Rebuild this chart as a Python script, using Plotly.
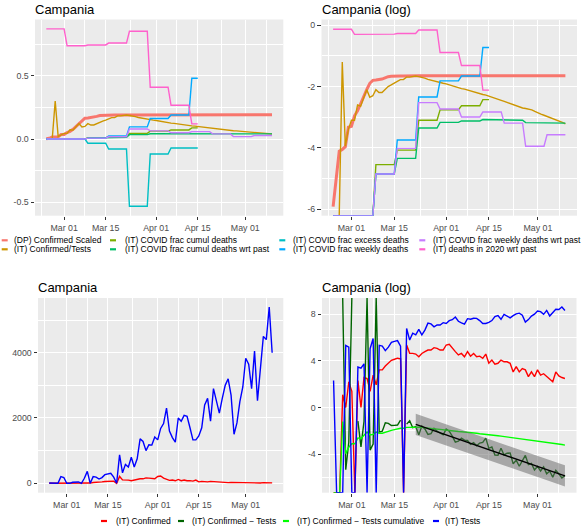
import numpy as np
import pandas as pd
import plotly.graph_objects as go

FONT = "Liberation Sans, Arial, sans-serif"
W, H = 582, 527

# ---------------- data ----------------
dates = pd.date_range("2020-02-24", "2020-05-10", freq="D")

dp_confirmed_scaled = [
    0.0027, 0.0063, 0.0164, 0.0174, 0.0190, 0.0358, 0.0369, 0.052, 0.061, 0.077,
    0.100, 0.122, 0.150, 0.165, 0.167, 0.169, 0.172, 0.179, 0.186, 0.188,
    0.190, 0.190, 0.190, 0.190, 0.191, 0.191, 0.191, 0.191, 0.191, 0.191,
    0.191, 0.191, 0.191, 0.191, 0.191, 0.191, 0.191, 0.191, 0.191, 0.191,
    0.191, 0.191, 0.191, 0.191, 0.191, 0.191, 0.191, 0.191, 0.191, 0.191,
    0.192, 0.192, 0.192, 0.192, 0.192, 0.192, 0.192, 0.192, 0.192, 0.192,
    0.192, 0.192, 0.192, 0.192, 0.192, 0.192, 0.192, 0.192, 0.192, 0.192,
    0.192, 0.192, 0.192, 0.192, 0.192, 0.192, 0.192]

it_confirmed_over_tests = [
    0, 0, 0, 0.30, 0.0193, 0.0334, 0.045, 0.045, 0.074, 0.071,
    0.095, 0.122, 0.095, 0.100, 0.122, 0.111, 0.111, 0.122, 0.135, 0.142,
    0.150, 0.160, 0.169, 0.169, 0.183, 0.183, 0.188, 0.190, 0.186, 0.183,
    0.177, 0.170, 0.165, 0.160, 0.156, 0.153, 0.150, 0.147, 0.142, 0.138,
    0.133, 0.129, 0.126, 0.124, 0.120, 0.116, 0.113, 0.110, 0.106, 0.104,
    0.102, 0.099, 0.096, 0.093, 0.089, 0.086, 0.083, 0.080, 0.078, 0.076,
    0.073, 0.070, 0.067, 0.066, 0.065, 0.063, 0.060, 0.057, 0.055, 0.053,
    0.051, 0.050, 0.048, 0.046, 0.044, 0.042, 0.040]

# weekly (Monday-start) values
frac_cumul_deaths_w = [0, 0, 0.0106, 0.017, 0.045, 0.063, 0.072, 0.088]
frac_cumul_deaths_wrt_past_w = [0, 0, 0.0078, 0.013, 0.035, 0.042, 0.044, 0.046, 0.045, 0.0416, 0.041]
frac_excess_deaths_w = [0, 0, -0.033, -0.078, -0.53, -0.118, -0.07, -0.07]
frac_weekly_deaths_w = [0, 0, 0.0078, 0.0237, 0.096, 0.162, 0.19, 0.48]
frac_weekly_deaths_wrt_past_w = [0, 0, 0.0078, 0.018, 0.08, 0.065, 0.05, 0.059, 0.041, 0.0193, 0.028]
deaths_2020_wrt_past_w = [0.87, 0.737, 0.743, 0.758, 0.851, 0.409, 0.267, 0.12]
short_end = "2020-04-15"
long_end = "2020-05-10"

it_confirmed = [
    0, 0, 0, 3, 1, 9, 4, 0, 10, 1,
    13, 12, 4, 16, 7, 25, 25, 35, 45, 57,
    62, 68, 65, 0, 210, 103, 103, 97, 77, 102,
    119, 137, 137, 167, 157, 137, 137, 210, 222, 158,
    119, 90, 102, 77, 119, 81, 102, 77, 81, 67,
    97, 44, 58, 41, 44, 58, 50, 50, 44, 21,
    33, 21, 28, 25, 14, 21, 14, 25, 16, 18,
    14, 11, 9, 21, 15, 13, 12]

it_tests = [
    10, 0, 0, 0, 204, 176, 0, 0, 32, 29,
    42, 0, 153, 365, 0, 204, 190, 130, 175, 265,
    285, 305, 190, 0, 870, 320, 580, 500, 800, 500,
    750, 1360, 1280, 1000, 1180, 1170, 1420, 1330, 1680, 1830,
    2300, 1600, 1400, 1260, 2000, 1900, 2080, 2050, 1700, 1330,
    1330, 1450, 1700, 2400, 2600, 1900, 2900, 2500, 2150, 2600,
    3000, 3200, 2700, 1500, 1850, 2500, 2950, 3830, 3650, 2900,
    4050, 2530, 3500, 4500, 4400, 5400, 4000]

fit_start = "2020-03-22"
band_t = 2.68  # t quantile for a 99% prediction band

top_labels = ["(DP) Confirmed Scaled", "(IT) Confirmed/Tests", "(IT) COVID frac cumul deaths",
              "(IT) COVID frac cumul deaths wrt past", "(IT) COVID frac excess deaths",
              "(IT) COVID frac weekly deaths", "(IT) COVID frac weekly deaths wrt past",
              "(IT) deaths in 2020 wrt past"]
top_colors = ["#F8766D", "#CD9600", "#7CAE00", "#00BE67", "#00BFC4", "#00A9FF", "#C77CFF", "#FF61CC"]
bottom_labels = ["(IT) Confirmed", "(IT) Confirmed \u2212 Tests", "(IT) Confirmed \u2212 Tests cumulative", "(IT) Tests"]
bottom_colors = ["#FF0000", "#006400", "#00FF00", "#0000FF"]

x_tick_vals = ["2020-03-01", "2020-03-15", "2020-04-01", "2020-04-15", "2020-05-01"]
x_tick_text = ["Mar 01", "Mar 15", "Apr 01", "Apr 15", "May 01"]
x_minor_vals = ["2020-02-22 12:00", "2020-03-08", "2020-03-23 12:00", "2020-04-08", "2020-04-23", "2020-05-08"]
X_RANGE = ["2020-02-20 04:48", "2020-05-13 19:12"]

Y_TL = [-0.605, 0.944]
Y_TR = [-6.21, 0.18]
Y_BL = [-288, 5675]
Y_BR = [-7.29, 9.37]


# ---------------- helpers ----------------
def daily_from_weekly(wvals, end):
    out = np.full(len(dates), np.nan)
    widx = (dates - dates[0]).days // 7
    for i, d in enumerate(dates):
        if d <= pd.Timestamp(end) and widx[i] < len(wvals):
            out[i] = wvals[widx[i]]
    return out


def to_log(vals, lo, hi):
    a = np.array(vals, dtype=float)
    with np.errstate(divide="ignore", invalid="ignore"):
        out = np.log(a)
    out[np.isneginf(out)] = lo
    out[np.isposinf(out)] = hi
    return out


top_values = [
    np.array(dp_confirmed_scaled, float),
    np.array(it_confirmed_over_tests, float),
    daily_from_weekly(frac_cumul_deaths_w, short_end),
    daily_from_weekly(frac_cumul_deaths_wrt_past_w, long_end),
    daily_from_weekly(frac_excess_deaths_w, short_end),
    daily_from_weekly(frac_weekly_deaths_w, short_end),
    daily_from_weekly(frac_weekly_deaths_wrt_past_w, long_end),
    daily_from_weekly(deaths_2020_wrt_past_w, short_end),
]
top_widths = [3.0] + [1.4] * 7

C = np.array(it_confirmed, float)
T = np.array(it_tests, float)
with np.errstate(divide="ignore", invalid="ignore"):
    ratio_log = np.log(C) - np.log(T)
ratio_log[np.isposinf(ratio_log)] = Y_BR[1]
ratio_log[np.isneginf(ratio_log)] = Y_BR[0]

# linear fit on log daily ratio (from fit_start) with prediction band
mask = dates >= pd.Timestamp(fit_start)
xd = (dates[mask] - dates[0]).days.values.astype(float)
yd = ratio_log[mask]
b1, b0 = np.polyfit(xd, yd, 1)
yhat = b0 + b1 * xd
n = len(xd)
s = np.sqrt(np.sum((yd - yhat) ** 2) / (n - 2))
half = band_t * s * np.sqrt(1 + 1 / n + (xd - xd.mean()) ** 2 / np.sum((xd - xd.mean()) ** 2))

# ---------------- figure ----------------
fig = go.Figure()

for lab, vals, col, lw in zip(top_labels, top_values, top_colors, top_widths):
    fig.add_trace(go.Scatter(x=dates, y=vals, mode="lines", line=dict(color=col, width=lw),
                             name=lab, showlegend=False, xaxis="x", yaxis="y"))
for lab, vals, col, lw in zip(top_labels, top_values, top_colors, top_widths):
    fig.add_trace(go.Scatter(x=dates, y=to_log(vals, Y_TR[0], Y_TR[1]), mode="lines",
                             line=dict(color=col, width=lw), name=lab, showlegend=False,
                             xaxis="x2", yaxis="y2"))

# bottom-left (linear)
fig.add_trace(go.Scatter(x=dates, y=C, mode="lines", line=dict(color=bottom_colors[0], width=1.4),
                         name=bottom_labels[0], showlegend=False, xaxis="x3", yaxis="y3"))
fig.add_trace(go.Scatter(x=dates, y=T, mode="lines", line=dict(color=bottom_colors[3], width=1.4),
                         name=bottom_labels[3], showlegend=False, xaxis="x3", yaxis="y3"))

# bottom-right (log)
fig.add_trace(go.Scatter(x=dates, y=to_log(C, Y_BR[0], Y_BR[1]), mode="lines", name=bottom_labels[0],
                         line=dict(color=bottom_colors[0], width=1.4), showlegend=False, xaxis="x4", yaxis="y4"))
fig.add_trace(go.Scatter(x=dates, y=ratio_log, mode="lines", name=bottom_labels[1],
                         line=dict(color=bottom_colors[1], width=1.4), showlegend=False, xaxis="x4", yaxis="y4"))
fig.add_trace(go.Scatter(x=dates, y=to_log(it_confirmed_over_tests, Y_BR[0], Y_BR[1]), mode="lines",
                         name=bottom_labels[2],
                         line=dict(color=bottom_colors[2], width=1.4), showlegend=False, xaxis="x4", yaxis="y4"))
fig.add_trace(go.Scatter(x=dates, y=to_log(T, Y_BR[0], Y_BR[1]), mode="lines", name=bottom_labels[3],
                         line=dict(color=bottom_colors[3], width=1.4), showlegend=False, xaxis="x4", yaxis="y4"))
fit_dates = dates[mask]
fig.add_trace(go.Scatter(x=fit_dates, y=yhat - half, mode="lines", line=dict(width=0, color="rgba(0,0,0,0)"),
                         showlegend=False, hoverinfo="skip", xaxis="x4", yaxis="y4"))
fig.add_trace(go.Scatter(x=fit_dates, y=yhat + half, mode="lines", line=dict(width=0, color="rgba(0,0,0,0)"),
                         fill="tonexty", fillcolor="rgba(100,100,100,0.5)",
                         showlegend=False, hoverinfo="skip", xaxis="x4", yaxis="y4"))
fig.add_trace(go.Scatter(x=fit_dates, y=yhat, mode="lines", line=dict(color="black", width=1.4),
                         showlegend=False, xaxis="x4", yaxis="y4"))


def px_x(px):
    return px / W


def px_y(py):
    return 1 - py / H


common = dict(showgrid=True, gridcolor="white", gridwidth=1.07, zeroline=False, showline=False,
              ticks="outside", ticklen=3.5, tickwidth=1.07, tickcolor="#333333",
              tickfont=dict(family=FONT, size=8.8, color="#4D4D4D"), fixedrange=True)


def xax(l, r, anchor):
    d = dict(common)
    d.update(domain=[px_x(l), px_x(r)], anchor=anchor, type="date", range=X_RANGE,
             tickmode="array", tickvals=x_tick_vals, ticktext=x_tick_text,
             minor=dict(tickmode="array", tickvals=x_minor_vals, showgrid=True,
                        gridcolor="white", gridwidth=0.53, ticks=""))
    return d


def yax(top, bot, anchor, rng, tv, tt, mv):
    d = dict(common)
    d.update(domain=[px_y(bot), px_y(top)], anchor=anchor, range=rng,
             tickmode="array", tickvals=tv, ticktext=tt,
             minor=dict(tickmode="array", tickvals=mv, showgrid=True,
                        gridcolor="white", gridwidth=0.53, ticks=""))
    return d


TOP_T, TOP_B = 19.5, 215.7
BOT_T, BOT_B = 298, 492.7

fig.update_layout(
    width=W, height=H, margin=dict(l=0, r=0, t=0, b=0),
    paper_bgcolor="white", plot_bgcolor="#EBEBEB",
    font=dict(family=FONT, color="black"),
    xaxis=xax(35, 283.3, "y"),
    yaxis=yax(TOP_T, TOP_B, "x", Y_TL, [-0.5, 0, 0.5], ["-0.5", "0.0", "0.5"], [-0.25, 0.25, 0.75]),
    xaxis2=xax(321.5, 577, "y2"),
    yaxis2=yax(TOP_T, TOP_B, "x2", Y_TR, [-6, -4, -2, 0], ["-6", "-4", "-2", "0"], [-5, -3, -1]),
    xaxis3=xax(38, 283.3, "y3"),
    yaxis3=yax(BOT_T, BOT_B, "x3", Y_BL, [0, 2000, 4000], ["0", "2000", "4000"], [1000, 3000, 5000]),
    xaxis4=xax(322, 576.5, "y4"),
    yaxis4=yax(BOT_T, BOT_B, "x4", Y_BR, [-4, 0, 4, 8], ["-4", "0", "4", "8"], [-6, -2, 2, 6]),
    showlegend=False,
)

annotations = []
shapes = []


def add_text(txt, x, y, size, color="black"):
    annotations.append(dict(text=txt, x=px_x(x), y=px_y(y), xref="paper", yref="paper",
                            xanchor="left", yanchor="middle", showarrow=False,
                            font=dict(family=FONT, size=size, color=color), borderpad=0))


LEG_FS = 8.5

# panel titles
add_text("Campania", 34, 9, 13)
add_text("Campania (log)", 321, 9, 13)
add_text("Campania", 37, 287.5, 13)
add_text("Campania (log)", 321, 287.5, 13)

# top legend (column-major, 2 rows)
key_x = [1.7, 110, 279.3, 419.3]
text_x = [13.3, 124.3, 292, 432]
row_y = [240.3, 249.3]
for i, (lab, col) in enumerate(zip(top_labels, top_colors)):
    c, r = divmod(i, 2)
    shapes.append(dict(type="line", xref="paper", yref="paper", x0=px_x(key_x[c]), x1=px_x(key_x[c] + 6),
                       y0=px_y(row_y[r]), y1=px_y(row_y[r]), line=dict(color=col, width=2.2)))
    add_text(lab, text_x[c], row_y[r], LEG_FS)

# bottom legend
bkey_x = [101, 178, 283, 433]
btext_x = [115, 191, 296, 444]
by = 521
for kx, tx, lab, col in zip(bkey_x, btext_x, bottom_labels, bottom_colors):
    shapes.append(dict(type="line", xref="paper", yref="paper", x0=px_x(kx), x1=px_x(kx + 6),
                       y0=px_y(by), y1=px_y(by), line=dict(color=col, width=2.2)))
    add_text(lab, tx, by, LEG_FS)

fig.update_layout(annotations=annotations, shapes=shapes)
fig.write_html("out.html", config={"displayModeBar": False},
               post_script="document.body.style.margin='0px';document.body.style.overflow='hidden';")
